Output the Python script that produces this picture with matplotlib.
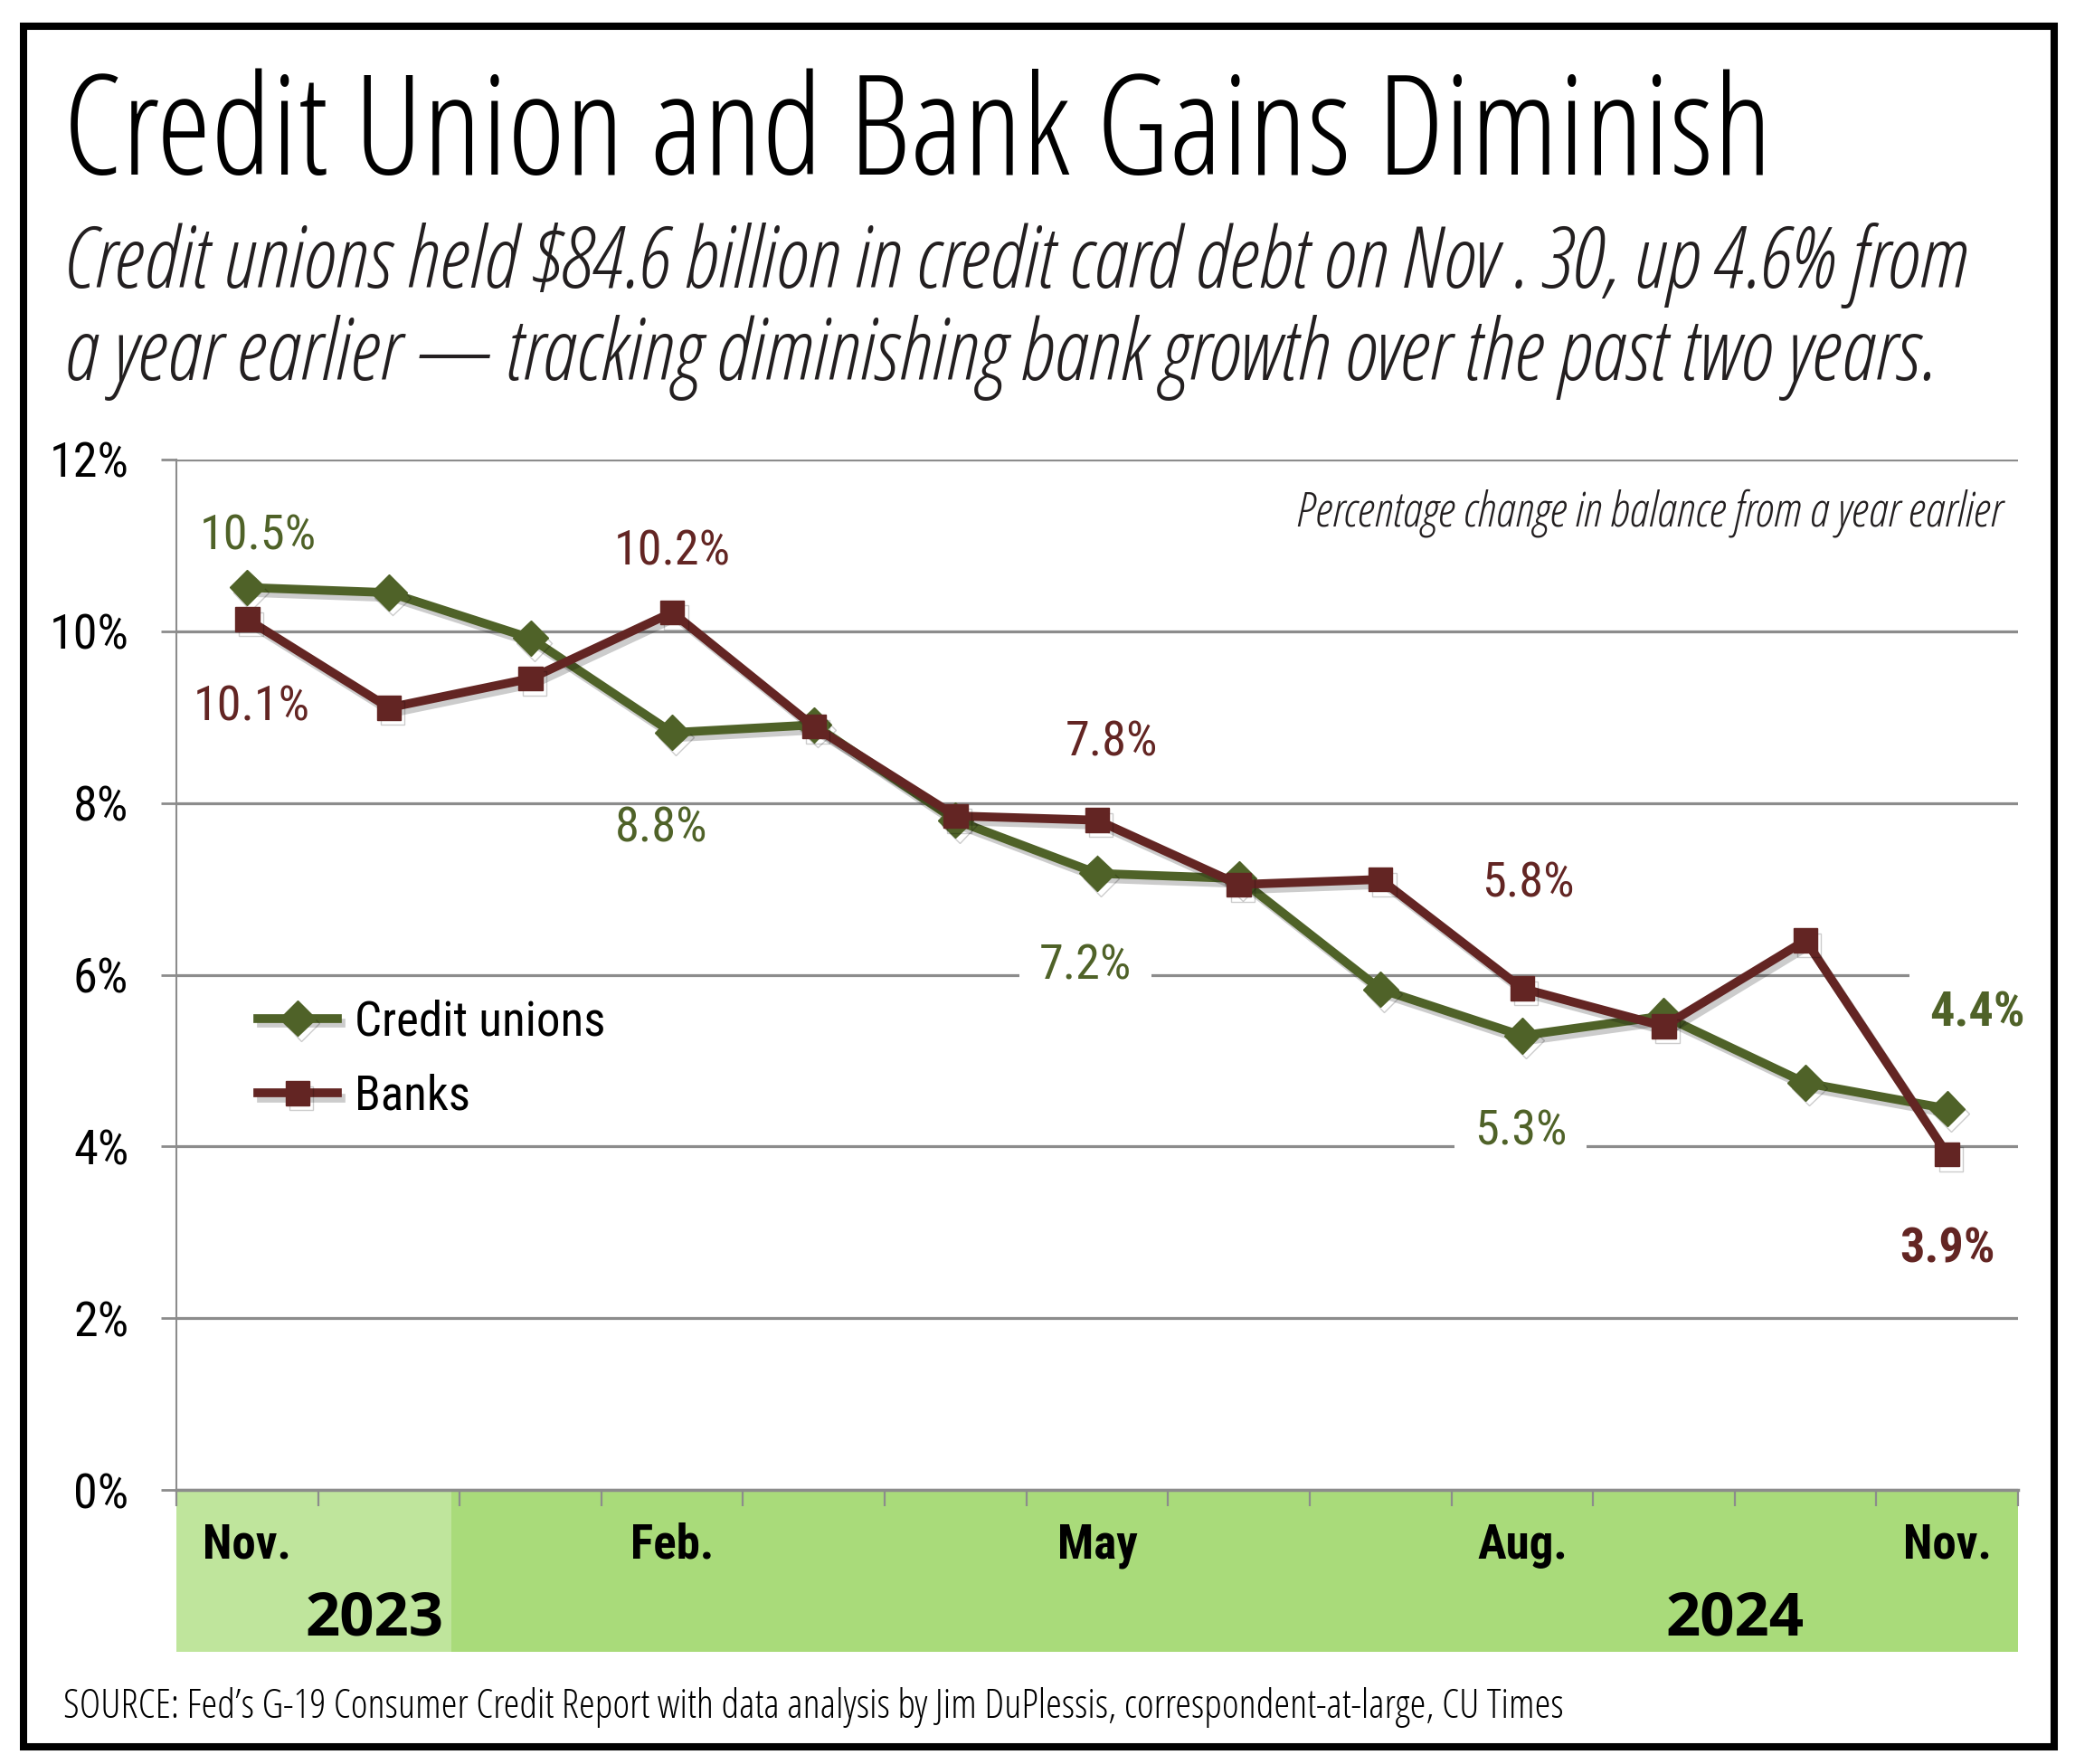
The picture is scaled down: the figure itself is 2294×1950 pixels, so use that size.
import matplotlib
matplotlib.use("Agg")
import numpy as np
import matplotlib.pyplot as plt
import matplotlib.patheffects as pe
from matplotlib import font_manager as fm
from matplotlib.patches import Rectangle
from matplotlib.transforms import blended_transform_factory

# Data (percent change from a year earlier)
months = ["Nov.", "", "", "Feb.", "", "", "May", "", "", "Aug.", "", "", "Nov."]
years = ["2023", "2024"]
year_pos = [0.9, 10.5]
credit_unions = [10.51, 10.45, 9.92, 8.82, 8.91, 7.80, 7.18, 7.12, 5.83, 5.29, 5.52, 4.74, 4.44]
banks = [10.14, 9.11, 9.45, 10.22, 8.89, 7.85, 7.80, 7.05, 7.11, 5.84, 5.40, 6.40, 3.91]
yticks = [0, 2, 4, 6, 8, 10, 12]
ytick_labels = ["0%", "2%", "4%", "6%", "8%", "10%", "12%"]

# which points get a value label
cu_label_idx = [0, 3, 6, 9, 12]
bank_label_idx = [0, 3, 6, 9, 12]

CU_COLOR = "#4f6228"
BANK_COLOR = "#632523"
GRID = "#8c8c8c"

W, H = 2294, 1950

entries = fm.fontManager.ttflist
names = {f.name for f in entries}


def has_cond(family):
    return any(f.name == family and str(f.stretch) in ("condensed", "semi-condensed", "extra-condensed")
               for f in entries)


def pick(prefs, fallback):
    # prefs: list of (family, stretch)
    for fam, st in prefs:
        if st == "normal" and fam in names:
            return dict(family=fam, stretch="normal")
        if st != "normal" and has_cond(fam):
            return dict(family=fam, stretch=st)
    return dict(family=fallback, stretch="normal")


NARROW = pick([("Liberation Sans Narrow", "normal"), ("Arial Narrow", "normal"),
               ("Roboto Condensed", "normal"), ("Roboto", "condensed"),
               ("Noto Sans", "condensed"), ("DejaVu Sans", "condensed")], "Liberation Sans")
COND = pick([("Open Sans", "condensed"), ("Open Sans Condensed", "normal"),
             ("Noto Sans", "condensed"), ("Roboto Condensed", "normal"),
             ("Liberation Sans Narrow", "normal"), ("DejaVu Sans", "condensed")], "Open Sans")


def fx(px):
    return px / W


def fy(py):
    return 1 - py / H


fig = plt.figure(figsize=(W / 100, H / 100), dpi=100)
fig.patch.set_facecolor("white")
renderer = fig.canvas.get_renderer()


def fit(t, width):
    w = t.get_window_extent(renderer).width
    t.set_fontsize(t.get_fontsize() * width / w)


# shrink the numeric text a little if the narrow face is not really narrow
probe = fig.text(0, 0, "10.5%", fontfamily=NARROW["family"], fontstretch=NARROW["stretch"], fontsize=42)
k = min(1.0, max(0.93, 127 / probe.get_window_extent(renderer).width))
probe.remove()
NUM = dict(fontfamily=NARROW["family"], fontstretch=NARROW["stretch"])
HEAD = dict(fontfamily=COND["family"], fontstretch=COND["stretch"])

# outer frame
fig.patches.append(Rectangle((fx(26), fy(1931)), fx(2271) - fx(26), fy(29) - fy(1931),
                             transform=fig.transFigure, fill=False, ec="black", lw=5.8))

# title + subtitle
t = fig.text(fx(70), fy(193), "Credit Union and Bank Gains Diminish", fontsize=110,
             va="baseline", ha="left", color="black", **HEAD)
fit(t, 1890)
s1 = fig.text(fx(70), fy(318), "Credit unions held $84.6 billion in credit card debt on Nov . 30, up 4.6% from",
              style="italic", fontsize=50, va="baseline", ha="left", color="#231f20", **HEAD)
fit(s1, 2105)
fig.text(fx(70), fy(420), "a year earlier \u2014 tracking diminishing bank growth over the past two years.",
         style="italic", fontsize=s1.get_fontsize(), va="baseline", ha="left", color="#231f20", **HEAD)

src = fig.text(fx(70), fy(1899), "SOURCE: Fed\u2019s G-19 Consumer Credit Report with data analysis by Jim DuPlessis, correspondent-at-large, CU Times",
               fontsize=25, va="baseline", ha="left", color="black", **HEAD)
fit(src, 1661)

# plot area
ax = fig.add_axes([fx(195), fy(1647), fx(2231) - fx(195), fy(508) - fy(1647)])
x = np.arange(len(months))
ax.set_xlim(-0.5, len(months) - 0.5)
ax.set_ylim(0, 12)

ax.set_yticks(yticks)
ax.set_yticklabels(ytick_labels, fontsize=42 * k, **NUM)
ax.set_xticks(np.arange(-0.5, len(months), 1))
ax.set_xticklabels([])
ax.tick_params(axis="y", length=12, width=2, color=GRID, pad=26)
ax.tick_params(axis="x", length=13, width=1.6, color=GRID, direction="out")
ax.yaxis.grid(True, color=GRID, lw=2.3)
ax.set_axisbelow(True)
for side in ["top", "right"]:
    ax.spines[side].set_visible(False)
ax.spines["left"].set_color(GRID)
ax.spines["left"].set_linewidth(1.5)
ax.spines["bottom"].set_color(GRID)
ax.spines["bottom"].set_linewidth(2.5)

# green date band under the axis
bt = blended_transform_factory(ax.transData, ax.transAxes)
band_h = (1826 - 1647) / (1647 - 508)
ax.add_patch(Rectangle((-0.5, -band_h), 1.94, band_h, transform=bt, clip_on=False,
                       fc="#bfe59c", ec="none", zorder=0.2))
ax.add_patch(Rectangle((1.44, -band_h), len(months) - 0.5 - 1.44, band_h, transform=bt,
                       clip_on=False, fc="#a9db7a", ec="none", zorder=0.2))
for i, m in enumerate(months):
    if m:
        ax.text(i, -0.0667, m, transform=bt, ha="center", va="baseline",
                fontweight="bold", fontsize=41 * k, color="black", **NUM)
for p, yr in zip(year_pos, years):
    ax.text(p, -0.1405, yr, transform=bt, ha="center", va="baseline",
            fontweight="bold", fontsize=52 * k, color="black", **HEAD)

shadow = [pe.SimpleLineShadow(offset=(3, -4), shadow_color="black", alpha=0.2), pe.Normal()]
l_cu, = ax.plot(x, credit_unions, color=CU_COLOR, lw=7, marker="D", ms=20,
                label="Credit unions", zorder=3, path_effects=shadow)
l_bk, = ax.plot(x, banks, color=BANK_COLOR, lw=7, marker="s", ms=19,
                label="Banks", zorder=3.1, path_effects=shadow)

# value labels (offsets in pixels from the point, to the text baseline)
cu_offsets = [(12, 42), (-12, -121), (-13, -117), (-2, -121), (33, 91)]
cu_box = [False, False, True, True, True]
cu_bold = [False, False, False, False, True]
bank_offsets = [(5, -112), (0, 52), (16, 71), (7, 101), (0, -120)]
bank_bold = [False, False, False, False, True]

for i, off, box, bold in zip(cu_label_idx, cu_offsets, cu_box, cu_bold):
    ax.annotate(f"{credit_unions[i]:.1f}%", xy=(i, credit_unions[i]), xytext=off,
                textcoords="offset pixels", ha="center", va="baseline",
                fontsize=42 * k, color=CU_COLOR, fontweight="bold" if bold else "normal",
                zorder=2.6, **NUM,
                bbox=dict(boxstyle="square,pad=0.4", fc="white", ec="none") if box else None)
for i, off, bold in zip(bank_label_idx, bank_offsets, bank_bold):
    ax.annotate(f"{banks[i]:.1f}%", xy=(i, banks[i]), xytext=off,
                textcoords="offset pixels", ha="center", va="baseline",
                fontsize=42 * k, color=BANK_COLOR, fontweight="bold" if bold else "normal",
                zorder=2.6, **NUM)

note = ax.text(fx(2213), fy(582), "Percentage change in balance from a year earlier",
               transform=fig.transFigure, ha="right", va="baseline",
               style="italic", fontsize=30, color="#231f20", **HEAD)
fit(note, 779)

ax.legend(handles=[l_cu, l_bk], loc="center left", bbox_to_anchor=(fx(285), fy(1171)),
          bbox_transform=fig.transFigure, frameon=False, borderpad=0, borderaxespad=0,
          handlelength=1.55 / k, handletextpad=0.35, labelspacing=0.6, numpoints=1,
          prop=fm.FontProperties(family=NARROW["family"], stretch=NARROW["stretch"], size=41 * k))

fig.savefig("out.png", dpi=100, facecolor="white")
